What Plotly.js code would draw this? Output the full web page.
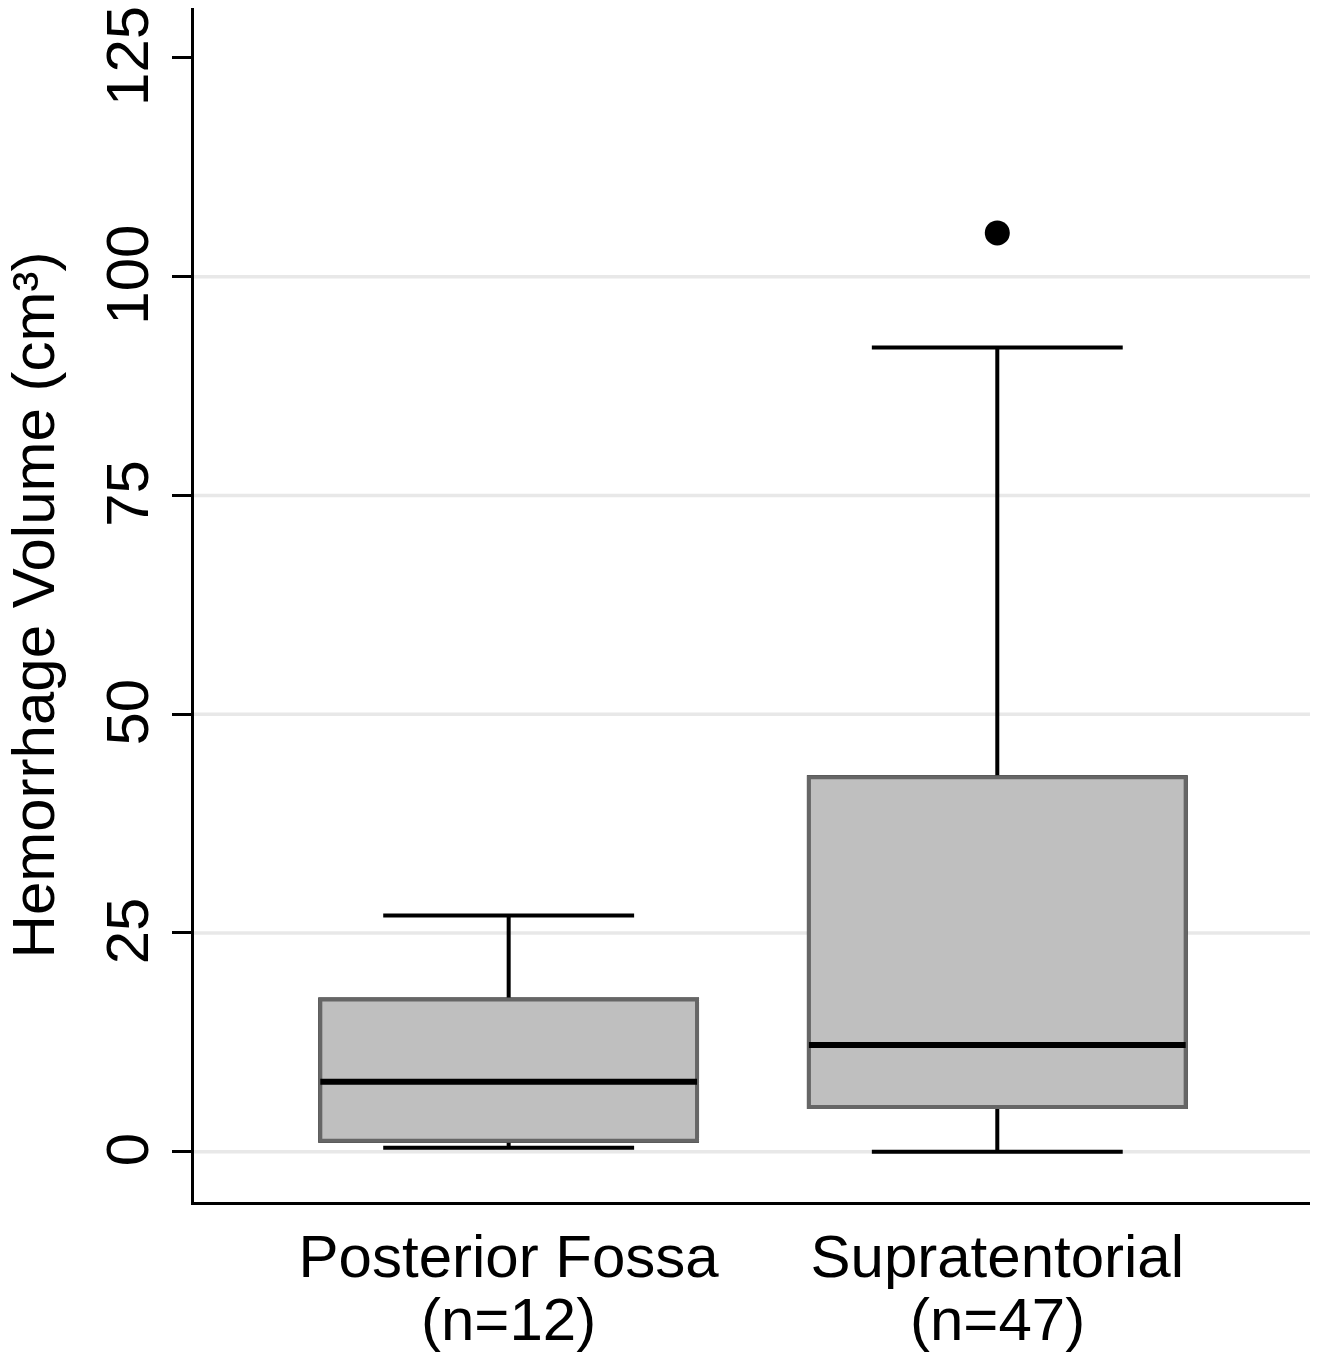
<!DOCTYPE html>
<html>
<head>
<meta charset="utf-8">
<script src="https://cdn.plot.ly/plotly-3.0.1.min.js"></script>
<style>
html,body{margin:0;padding:0;background:#fff;}
#chart{width:1319px;height:1353px;}
</style>
</head>
<body>
<div id="chart"></div>
<script>
// ---- data ----
const categories = ["Posterior Fossa", "Supratentorial"];
const nLabels = ["(n=12)", "(n=47)"];
const q1Vals = [1.25, 5.1];
const medianVals = [8.0, 12.2];
const q3Vals = [17.4, 42.8];
const lowerFenceVals = [0.45, 0.0];
const upperFenceVals = [27.0, 91.9];
const outlierCats = ["Supratentorial"];
const outlierVals = [105.0];
const yTickVals = [0, 25, 50, 75, 100, 125];
const gridVals = [0, 25, 50, 75, 100];

const FONT = "Liberation Sans, Arial, sans-serif";
const BOXW = 0.771;

// back trace: black whiskers and caps
const whiskers = {
  type: "box", x: categories,
  q1: q1Vals, median: medianVals, q3: q3Vals,
  lowerfence: lowerFenceVals, upperfence: upperFenceVals,
  width: BOXW, whiskerwidth: 0.666,
  fillcolor: "rgba(0,0,0,0)",
  line: {color: "#000000", width: 4},
  boxpoints: false, hoverinfo: "skip", showlegend: false
};
// middle trace: grey boxes with grey outline
const boxes = {
  type: "box", x: categories,
  q1: q1Vals, median: medianVals, q3: q3Vals,
  lowerfence: q1Vals, upperfence: q3Vals,
  width: BOXW, whiskerwidth: 0,
  fillcolor: "#bfbfbf",
  line: {color: "#666666", width: 4},
  boxpoints: false, showlegend: false
};
// front trace: black median bars
const medians = {
  type: "box", x: categories,
  q1: medianVals, median: medianVals, q3: medianVals,
  lowerfence: medianVals, upperfence: medianVals,
  width: BOXW, whiskerwidth: 0,
  fillcolor: "rgba(0,0,0,0)",
  line: {color: "#000000", width: 6},
  boxpoints: false, hoverinfo: "skip", showlegend: false
};
const outliers = {
  type: "scatter", mode: "markers",
  x: outlierCats, y: outlierVals,
  marker: {color: "#000000", size: 25},
  showlegend: false
};

const shapes = gridVals.map(v => ({
  type: "line", xref: "paper", yref: "y",
  x0: 0, x1: 1, y0: v, y1: v, layer: "below",
  line: {color: "#e8e8e8", width: 3.5}
}));

const annotations = categories.map((c, i) => ({
  xref: "x", yref: "paper", x: c, y: -0.0985,
  xanchor: "center", yanchor: "middle",
  text: nLabels[i], showarrow: false,
  font: {family: FONT, size: 60, color: "#000"}
}));

const layout = {
  width: 1319, height: 1353,
  margin: {l: 194, r: 9, t: 8, b: 151, pad: 0},
  paper_bgcolor: "#ffffff", plot_bgcolor: "#ffffff",
  font: {family: FONT, size: 60, color: "#000"},
  boxmode: "overlay",
  showlegend: false,
  xaxis: {
    type: "category", range: [-0.644, 1.640],
    showline: true, linecolor: "#000", linewidth: 3,
    ticks: "", showgrid: false, zeroline: false,
    tickfont: {family: FONT, size: 60, color: "#000"},
    automargin: false
  },
  yaxis: {
    range: [-5.75, 130.7],
    tickvals: yTickVals, ticktext: yTickVals.map(String),
    tickangle: -90,
    ticklabeloverflow: "allow",
    ticklabelshift: 7,
    ticks: "outside", ticklen: 19, tickwidth: 3, tickcolor: "#000",
    showline: true, linecolor: "#000", linewidth: 3,
    showgrid: false, zeroline: false,
    tickfont: {family: FONT, size: 60, color: "#000"},
    title: {text: "Hemorrhage Volume (cm³)", standoff: 28, font: {family: FONT, size: 60, color: "#000"}},
    automargin: "left"
  },
  shapes: shapes,
  annotations: annotations
};

Plotly.newPlot("chart", [whiskers, boxes, medians, outliers], layout, {displayModeBar: false, staticPlot: true});
</script>
</body>
</html>
